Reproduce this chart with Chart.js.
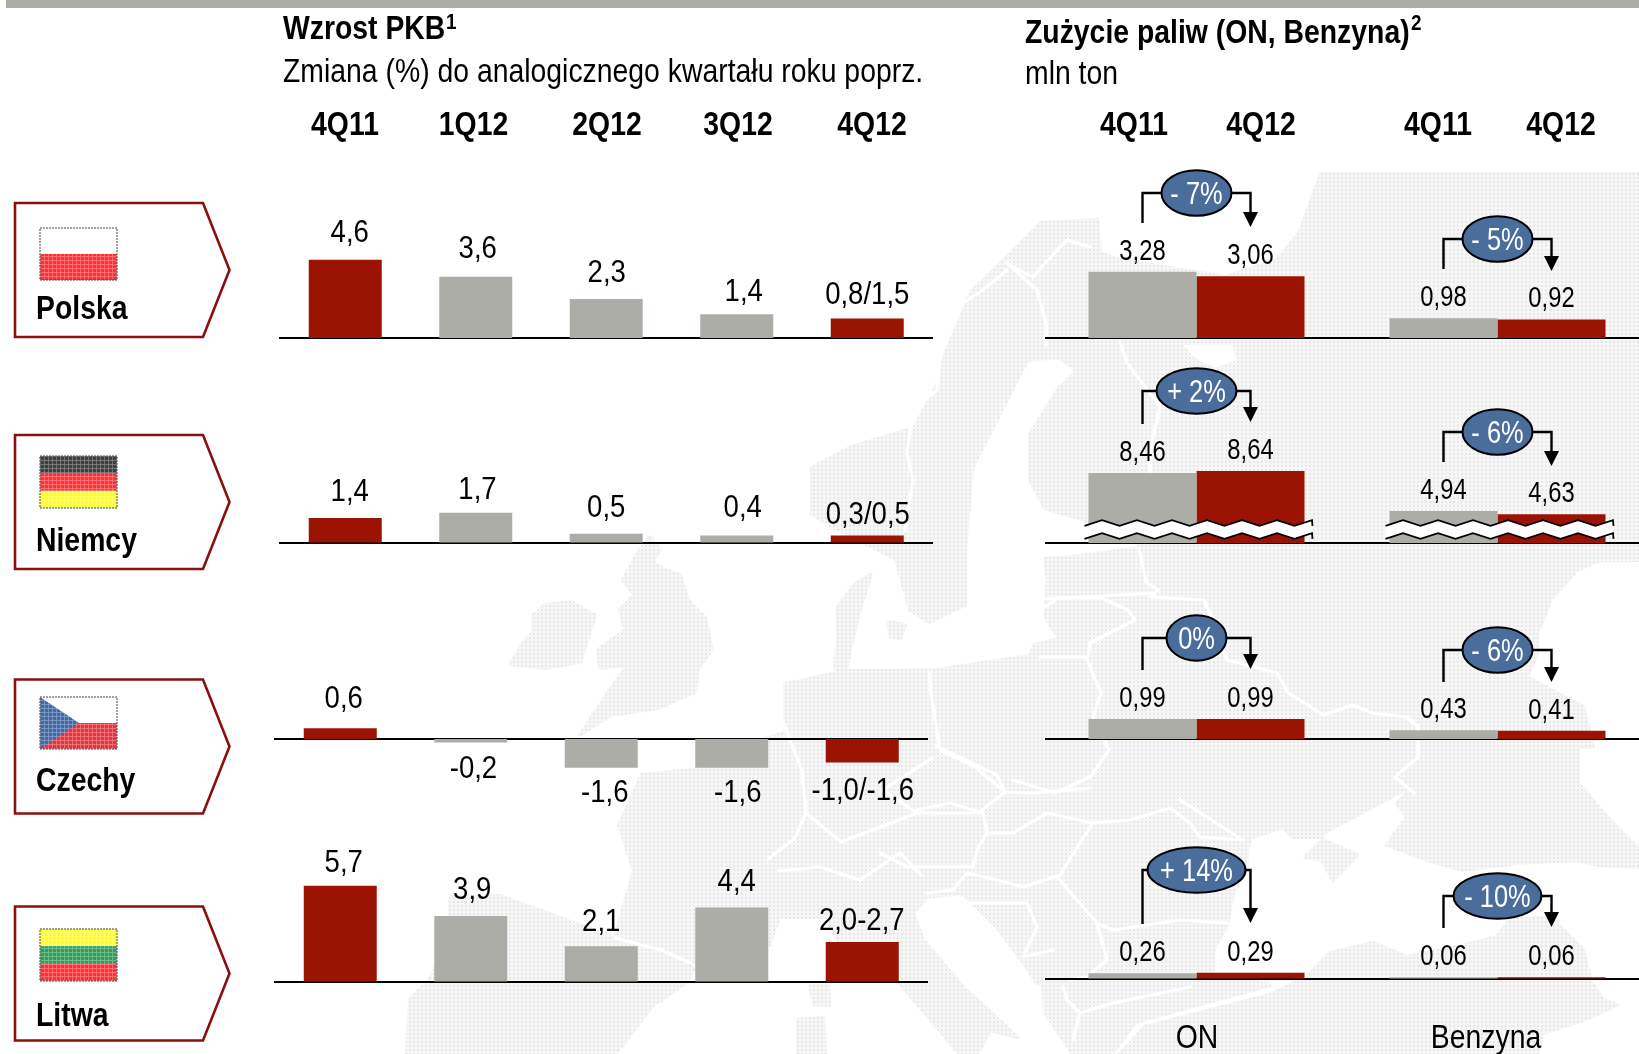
<!DOCTYPE html>
<html lang="pl"><head><meta charset="utf-8"><title>Wzrost PKB i zużycie paliw</title>
<script src="https://cdn.jsdelivr.net/npm/chart.js@4"></script>
<style>
html,body{margin:0;padding:0;background:#fff;width:1639px;height:1054px;overflow:hidden}
#stage{position:relative;width:1639px;height:1054px;overflow:hidden}
canvas,svg{position:absolute;left:0;top:0;pointer-events:none}
svg text{font-family:"Liberation Sans",Arial,sans-serif;fill:#000}
.b{font-weight:700}
</style></head><body><div id="stage">
<svg id="map" width="1639" height="1054">
<defs><pattern id="dots" width="4" height="4" patternUnits="userSpaceOnUse"><rect width="4" height="4" fill="#f7f7f7"/><circle cx="2" cy="2" r="1.2" fill="#e8e8e8"/></pattern></defs>
<g fill="url(#dots)" stroke="url(#dots)" stroke-width="4" stroke-linejoin="round">
<polygon points="936,670 1030,656 1034,645 1059,639 1045,616 1048,582 1045,559 1081,556 1139,548 1139,536 1045,508 1030,479 1030,434 1059,388 1077,371 1059,357 1027,360 1001,411 972,468 965,548 965,605 929,622 910,610 896,559 841,531 812,514 812,468 849,448 914,428 936,388 950,337 972,291 1001,263 1041,223 1097,220 1100,253 1120,260 1226,277 1277,260 1299,234 1321,174 1639,174 1639,560 1600,560 1577,570 1550,600 1543,620 1537,633 1537,653 1527,677 1583,707 1587,723 1593,747 1578,747 1578,783 1607,817 1639,850 1639,867 1600,865 1577,860 1517,863 1463,870 1427,860 1387,845 1407,817 1397,803 1417,783 1323,833 1322,837 1293,837 1283,827 1250,838 1247,850 1247,870 1233,893 1227,925 1213,950 1213,975 1270,985 1135,1022 1112,1054 1073,1054 1045,1013 1043,983 1037,983 1023,962 997,927 963,893 927,897 913,913 923,940 963,987 1017,1037 990,1030 977,1054 960,1054 925,1013 898,981 840,945 826,917 779,917 769,945 730,963 696,967 684,984 653,1005 615,1054 407,1054 410,1000 433,975 450,915 450,897 500,896 615,938 634,871 619,825 642,775 700,769 768,738 785,733 785,684 806,680 818,677 846,671 883,671"/>
<polygon points="1307,977 1330,953 1373,943 1407,957 1457,947 1497,937 1510,920 1550,917 1583,950 1590,980 1603,1000 1617,1005 1583,1020 1543,1033 1537,1054 1120,1054 1145,1027 1270,995"/>
<polygon points="1305,857 1323,840 1357,855 1333,880 1322,860"/>
<polygon points="638,553 650,537 660,550 652,562 665,570 680,575 688,600 705,618 712,650 698,668 695,692 658,708 610,715 580,735 610,690 628,665 600,668 598,650 625,630 620,610 635,595 623,580"/>
<polygon points="533,616 545,605 572,602 595,616 587,640 580,662 545,668 511,664 522,645 533,632"/>
<polygon points="837,608 856,583 871,575 860,608 850,650 846,672 835,668 838,640"/>
<polygon points="888,622 905,625 900,638 890,636"/>
<polygon points="810,986 828,986 829,1005 814,1004"/>
<polygon points="798,1020 823,1018 825,1054 798,1054"/>
</g>
<polygon points="1183,345 1233,345 1236,360 1215,368 1195,358" fill="#fff"/>
<g fill="none" stroke="#fff" stroke-width="3.2" stroke-linejoin="round" stroke-linecap="round">
<polyline points="1007,270 983,290 963,303 940,357 937,390 913,410 907,453 913,480 905,530"/>
<polyline points="1007,263 1037,290 1047,327 1046,345"/>
<polyline points="1013,267 1033,277 1057,250 1067,240 1090,247"/>
<polyline points="1120,343 1127,363 1140,380 1160,407 1150,450 1150,535"/>
<polyline points="1040,610 1059,598 1101,598 1128,610 1135,620 1090,643 1088,657"/>
<polyline points="1040,657 1086,657 1101,693 1093,717 1109,750 1090,777 1055,793 1013,780"/>
<polyline points="1139,548 1146,582 1158,590 1151,597 1204,600 1212,617 1227,660 1277,673 1288,693 1311,707 1323,715 1353,705 1372,713 1407,717 1418,727 1418,757 1395,777 1414,793"/>
<polyline points="1045,599 1154,593"/>
<polyline points="929,672 932,700 940,750 975,767 1005,792 1037,793 1090,788"/>
<polyline points="936,746 997,775 1005,792 978,813 917,813 883,790 932,758"/>
<polyline points="987,833 1013,833 1047,813 1093,823 1080,843 1060,875 1023,887 997,880 967,873 953,890 927,893"/>
<polyline points="917,810 950,803 983,813 987,833 977,850 973,867 963,867 907,867 880,853"/>
<polyline points="1093,823 1130,820 1170,808 1190,823 1200,837 1243,840"/>
<polyline points="1180,800 1243,840"/>
<polyline points="1057,877 1083,907 1097,923 1113,930 1180,920 1227,923"/>
<polyline points="960,903 1027,903 1037,927 1023,957 1053,950"/>
<polyline points="1097,923 1107,960 1087,977 1070,980"/>
<polyline points="1063,987 1067,1000 1080,1013 1113,1003 1190,987"/>
<polyline points="1080,1013 1073,1040"/>
<polyline points="768,734 783,721 802,771 806,813 841,842 917,813"/>
<polyline points="768,859 795,838 806,813"/>
<polyline points="779,871 820,867 860,880 900,853 921,875"/>
<polyline points="615,938 661,950 695,965"/>
</g>
</svg>
<div id="charts"></div>
<svg id="overlay" width="1639" height="1054"></svg>
</div>
<script>
// ---------- data ----------
const quarters = ['4Q11','1Q12','2Q12','3Q12','4Q12'];
const fuels = ['ON','Benzyna'];
const fuelPeriods = ['4Q11','4Q12'];
const countries = ['Polska','Niemcy','Czechy','Litwa'];

const gdpPolska = [4.6,3.6,2.3,1.4,1.15];
const gdpNiemcy = [1.4,1.7,0.5,0.4,0.4];
const gdpCzechy = [0.6,-0.2,-1.6,-1.6,-1.3];
const gdpLitwa  = [5.7,3.9,2.1,4.4,2.35];

const gdpTextPolska = ['4,6','3,6','2,3','1,4','0,8/1,5'];
const gdpTextNiemcy = ['1,4','1,7','0,5','0,4','0,3/0,5'];
const gdpTextCzechy = ['0,6','-0,2','-1,6','-1,6','-1,0/-1,6'];
const gdpTextLitwa  = ['5,7','3,9','2,1','4,4','2,0-2,7'];

const fuel4Q11Polska = [3.28,0.98];
const fuel4Q12Polska = [3.06,0.92];
const fuel4Q11Niemcy = [8.46,4.94];
const fuel4Q12Niemcy = [8.64,4.63];
const fuel4Q11Czechy = [0.99,0.43];
const fuel4Q12Czechy = [0.99,0.41];
const fuel4Q11Litwa  = [0.26,0.06];
const fuel4Q12Litwa  = [0.29,0.06];

const changePolska = ['- 7%','- 5%'];
const changeNiemcy = ['+ 2%','- 6%'];
const changeCzechy = ['0%','- 6%'];
const changeLitwa  = ['+ 14%','- 10%'];

// ---------- layout and style (page pixels) ----------
const RED='#9b1403', GRAY='#adada8', BLUE='#4b6d9c', FONT='"Liberation Sans",Arial,sans-serif';
const SX=0.86, SX_FUEL=0.82;
const gdpRows = [
 {v:gdpPolska,t:gdpTextPolska,p:338,  k:17,  l:280,dx:[4.5,2,0.5,7,0],      gap:[18,19,17,13,14]},
 {v:gdpNiemcy,t:gdpTextNiemcy,p:542.5,k:17.5,l:280,dx:[4.5,1.7,0,6,0.5],    gap:[17,14,17,19,12]},
 {v:gdpCzechy,t:gdpTextCzechy,p:739,  k:18,  l:275,dx:[3.5,2.7,3.5,6,0.5],  gap:[20,35,34,34,38]},
 {v:gdpLitwa, t:gdpTextLitwa, p:981.5,k:16.8,l:275,dx:[3.5,1.5,0,5,-0.5],   gap:[14,17,15,17,12]}
];
const fuelRows = [
 {a:fuel4Q11Polska,b:fuel4Q12Polska,c:changePolska,p:338,  k:20.2,base:0,   cy:[193,239],rx:[35,35],drop:[30,30],tip:[34,32]},
 {a:fuel4Q11Niemcy,b:fuel4Q12Niemcy,c:changeNiemcy,p:543,  k:10.8,base:1.97,cy:[391,432],rx:[40,35],drop:[33,30],tip:[31,34],broken:true},
 {a:fuel4Q11Czechy,b:fuel4Q12Czechy,c:changeCzechy,p:739,  k:20.2,base:0,   cy:[638,650],rx:[30,35],drop:[32,32],tip:[31,32]},
 {a:fuel4Q11Litwa, b:fuel4Q12Litwa, c:changeLitwa, p:978.5,k:20.2,base:0,   cy:[870,896],rx:[49,44],drop:[54,32],tip:[53,31]}
];
const AREA_TOP=150, AREA_BOTTOM=1050, W=1660, H=1054;

function narrowText(c,s,x,y,sx){
  c.save(); c.translate(x,y); c.scale(sx,1); c.fillText(s,0,0); c.restore();
}

// ---------- shared drawing plugin ----------
const marks = {
  id:'marks',
  afterDraw(chart,_a,o){
    const c=chart.ctx; c.save();
    c.textAlign='center'; c.textBaseline='alphabetic';
    if(o.kind==='gdp'){
      const m=chart.getDatasetMeta(0);
      c.font='32px '+FONT; c.fillStyle='#000';
      m.data.forEach((bar,i)=>{
        const neg=o.row.v[i]<0;
        const y=neg?bar.y+o.row.gap[i]:bar.y-o.row.gap[i];
        narrowText(c,o.row.t[i],bar.x+o.row.dx[i],y,SX);
      });
    } else {
      const r=o.row, m0=chart.getDatasetMeta(0), m1=chart.getDatasetMeta(1);
      if(r.broken){
        m0.data.forEach((bar,i)=>{
          const cx=(bar.x+m1.data[i].x)/2, L=cx-112, R=cx+116, top=r.p-20, bot=r.p-7, st=17.5;
          const xs=[]; for(let x=L;x<R;x+=st) xs.push(x); xs.push(R);
          const wave=(yy)=>xs.map((x,j)=>[x,yy+(j%2?-2.8:2.8)]);
          const a=wave(top), b=wave(bot);
          c.beginPath(); a.forEach((p,j)=>j?c.lineTo(p[0],p[1]):c.moveTo(p[0],p[1]));
          [...b].reverse().forEach(p=>c.lineTo(p[0],p[1])); c.closePath();
          c.fillStyle='#fff'; c.fill();
          c.strokeStyle='#000'; c.lineWidth=1.8; c.lineJoin='miter';
          [a,b].forEach(w=>{c.beginPath();w.forEach((p,j)=>j?c.lineTo(p[0],p[1]):c.moveTo(p[0],p[1]));c.stroke();});
        });
      }
      [m0,m1].forEach((m,ds)=>{
        const vals=ds?r.b:r.a;
        m.data.forEach((bar,i)=>{
          c.font='29px '+FONT; c.fillStyle='#000';
          narrowText(c,vals[i].toFixed(2).replace('.',','),bar.x,bar.y-12,SX_FUEL);
        });
      });
      m0.data.forEach((bar,i)=>{
        const x0=bar.x, x1=m1.data[i].x, cx=(x0+x1)/2, cy=r.cy[i];
        c.strokeStyle='#000'; c.lineWidth=2.4; c.lineJoin='miter';
        const tip=cy+r.tip[i];
        c.beginPath(); c.moveTo(x0,cy+r.drop[i]); c.lineTo(x0,cy); c.lineTo(x1,cy); c.lineTo(x1,tip-12); c.stroke();
        c.fillStyle='#000'; c.beginPath(); c.moveTo(x1-7.5,tip-15); c.lineTo(x1+7.5,tip-15); c.lineTo(x1,tip); c.closePath(); c.fill();
        c.beginPath(); c.ellipse(cx,cy,r.rx[i],22.7,0,0,Math.PI*2);
        c.fillStyle=BLUE; c.fill(); c.lineWidth=2; c.stroke();
        c.font='31px '+FONT; c.fillStyle='#fff'; narrowText(c,r.c[i],cx,cy+11,SX_FUEL);
      });
    }
    c.restore();
  }
};

function makeChart(labels,datasets,left,right,p,k,base,markOpts){
  const cv=document.createElement('canvas'); cv.width=W; cv.height=H;
  cv.style.width=W+'px'; cv.style.height=H+'px';
  document.getElementById('charts').appendChild(cv);
  const yMax=base+(p-AREA_TOP)/k, yMin=base-(AREA_BOTTOM-p)/k;
  return new Chart(cv,{
    type:'bar',
    data:{labels,datasets},
    plugins:[marks],
    options:{
      responsive:false,animation:false,devicePixelRatio:1,
      layout:{padding:{left,right:W-right,top:AREA_TOP,bottom:H-AREA_BOTTOM}},
      plugins:{legend:{display:false},tooltip:{enabled:false},title:{display:false},marks:markOpts},
      scales:{
        x:{position:{y:base},z:1,grid:{display:false},ticks:{display:false},border:{display:true,color:'#000',width:2}},
        y:{display:false,min:yMin,max:yMax,grid:{display:false}}
      }
    }
  });
}

gdpRows.forEach(row=>{
  const left=row.l, right=row.l+652.5;
  makeChart(quarters,[{
    data:row.v,
    backgroundColor:row.v.map((_,i)=>(i===0||i===row.v.length-1)?RED:GRAY),
    barPercentage:1,categoryPercentage:73/130.5,clip:false
  }],left,right,row.p,row.k,0,{kind:'gdp',row});
});
fuelRows.forEach(row=>{
  makeChart(fuels,[
    {label:fuelPeriods[0],data:row.a,backgroundColor:GRAY,base:row.base,barPercentage:1,categoryPercentage:216/301,clip:false},
    {label:fuelPeriods[1],data:row.b,backgroundColor:RED, base:row.base,barPercentage:1,categoryPercentage:216/301,clip:false}
  ],1046,1648,row.p,row.k,row.base,{kind:'fuel',row});
});

// ---------- static text, country tags and flags ----------
const ns='http://www.w3.org/2000/svg', ov=document.getElementById('overlay');
function el(name,attrs,text,parent){
  const e=document.createElementNS(ns,name);
  for(const k in attrs) e.setAttribute(k,attrs[k]);
  if(text!=null) e.textContent=text;
  (parent||ov).appendChild(e); return e;
}
function txt(s,x,y,size,bold,anchor){
  return el('text',{transform:`translate(${x},${y}) scale(${SX},1)`,'font-size':size,class:bold?'b':'','text-anchor':anchor||'start'},s);
}
const defs=el('defs',{});
const pat=el('pattern',{id:'flagDots',width:4,height:4,patternUnits:'userSpaceOnUse'},null,defs);
el('path',{d:'M0 0H4M0 0V4',stroke:'#fff','stroke-opacity':.38,'stroke-width':1.4,fill:'none'},null,pat);

el('rect',{x:6,y:0,width:1633,height:8,fill:GRAY});
txt('Wzrost PKB',283,39,33,true);
txt('1',446,29,22,true);
txt('Zmiana (%) do analogicznego kwartału roku poprz.',283,82,33,false);
txt('Zużycie paliw (ON, Benzyna)',1025,43,33,true);
txt('2',1411,30,22,true);
txt('mln ton',1025,84,33,false);

const gdpHeadX=[345,473.5,607,738,872];
quarters.forEach((q,i)=>txt(q,gdpHeadX[i],135,33,true,'middle'));
const fuelHeadX=[1134,1261,1438,1561];
[...fuelPeriods,...fuelPeriods].forEach((q,i)=>txt(q,fuelHeadX[i],135,33,true,'middle'));
const fuelNameX=[1197,1486];
fuels.forEach((f,i)=>txt(f,fuelNameX[i],1048,33,false,'middle'));

const tagTop=[203,435,679.5,906.5];
const nameBase=[319,551,791,1026];
const flagTop=[228,456,697,929];
const stripes=[
  [['#ffffff',.5],['#ff2f35',.5]],
  [['#3f3f3f',.34],['#ff2f35',.33],['#ffff22',.33]],
  [['#ffffff',.5],['#e8333f',.5]],
  [['#ffff22',.33],['#2f9e57',.34],['#ff2f35',.33]]
];
countries.forEach((name,i)=>{
  const y=tagTop[i], h=134;
  el('polygon',{points:`15,${y} 203,${y} 229.5,${y+h/2} 203,${y+h} 15,${y+h}`,fill:'#fff',stroke:'#8a0f0f','stroke-width':2.6});
  let fy=flagTop[i]; const fh=52, fx=40, fw=77;
  stripes[i].forEach(([col,share])=>{el('rect',{x:fx,y:fy,width:fw,height:fh*share,fill:col}); fy+=fh*share;});
  if(i===2) el('polygon',{points:`${fx},${flagTop[i]} ${fx+39},${flagTop[i]+fh/2} ${fx},${flagTop[i]+fh}`,fill:'#4169a8'});
  el('rect',{x:fx,y:flagTop[i],width:fw,height:fh,fill:i===0?'none':'url(#flagDots)'});
  if(i===0) el('rect',{x:fx,y:flagTop[i]+fh/2,width:fw,height:fh/2,fill:'url(#flagDots)'});
  el('rect',{x:fx,y:flagTop[i],width:fw,height:fh,fill:'none',stroke:'#444','stroke-width':1,'stroke-dasharray':'2 1'});
  txt(name,36,nameBase[i],33,true);
});
</script>
</body></html>
